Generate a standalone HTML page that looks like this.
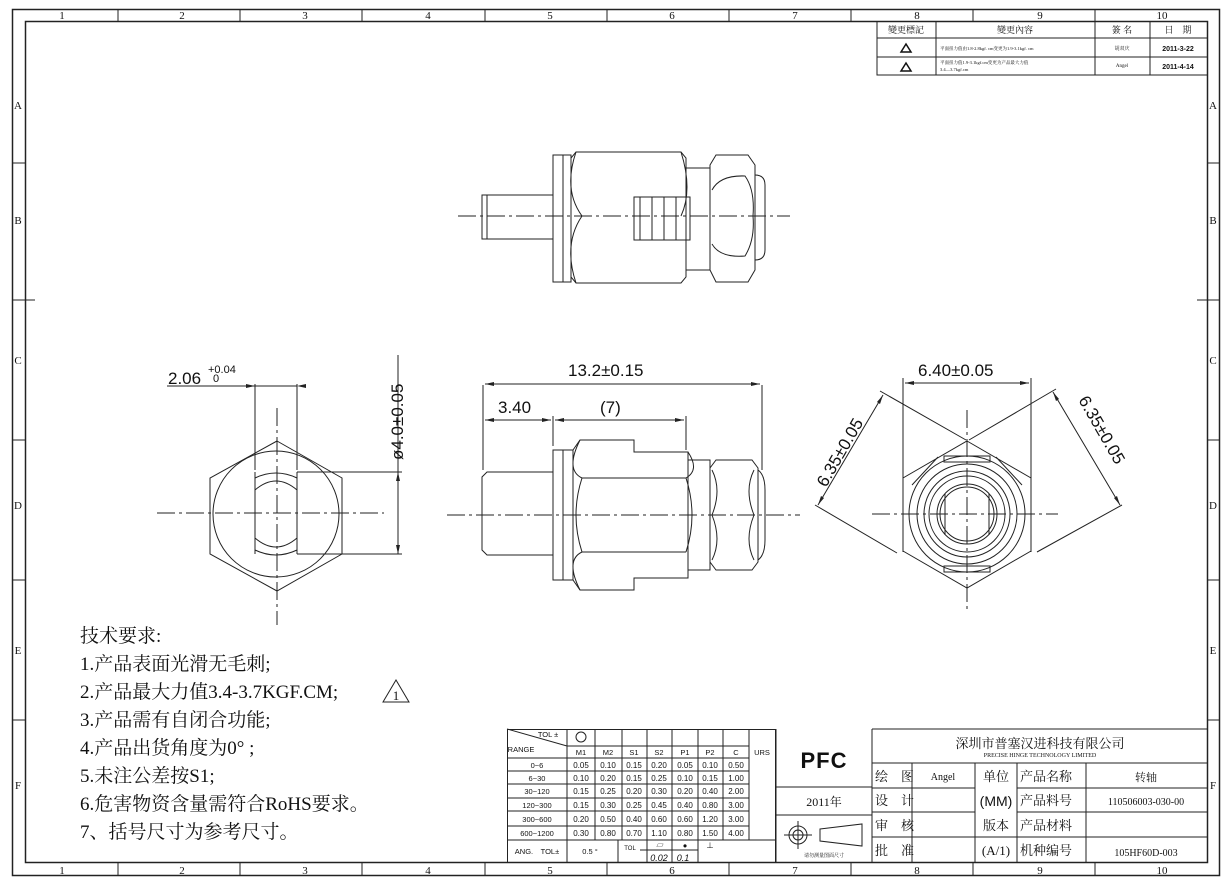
<!DOCTYPE html>
<html><head><meta charset="utf-8"><style>
html,body{margin:0;padding:0;background:#fff;}
svg{display:block;}
text{font-family:"Liberation Serif","Noto Serif CJK SC",serif;fill:#111;}
.s,.s text{font-family:"Liberation Sans","Noto Sans CJK SC",sans-serif;}
</style></head><body>
<svg width="1232" height="881" viewBox="0 0 1232 881" xmlns="http://www.w3.org/2000/svg">
<g fill="none" stroke="#222" stroke-width="1">
<rect x="12.5" y="9.5" width="1207" height="866" stroke-width="1.5"/>
<rect x="25.5" y="21.5" width="1182" height="841" stroke-width="1.5"/>
<path d="M118 9V21M240 9V21M362 9V21M485 9V21M607 9V21M729 9V21M851 9V21M973 9V21M1095 9V21 M118 862V876M240 862V876M362 862V876M485 862V876M607 862V876M729 862V876M851 862V876M973 862V876M1095 862V876"/>
<path d="M12 163H25M12 300H35M12 440H25M12 580H25M12 720H25M1207 163H1219M1197 300H1219M1207 440H1219M1207 580H1219M1207 720H1219"/>
<path d="M877 21V75H1207M877 38H1207M877 57H1207M936 21V75M1095 21V75M1150 21V75"/>
<!-- tolerance table -->
<rect x="507.5" y="729.5" width="268" height="133"/>
<path d="M567 746H749M507 758H749M507 771H749M507 784H749M507 798H749M507 811H749M507 826H749M507 840H776M567 729V862M595 729V840M622 729V840M647 729V840M672 729V840M698 729V840M723 729V840M749 729V840M507 729L567 746M618 840V862M640 850H698M647 840V862M672 840V862M698 840V862"/>
<path d="M776 729V862M776 787H872M776 815H872M872 729V862"/>
<path d="M872 729H1207M872 763H1207M872 788H975M1017 788H1207M872 812H975M1017 812H1207M872 837H1207M912 763V862M975 763V862M1017 763V862M1086 763V862"/>
</g>
<g font-size="11" text-anchor="middle">
<text x="62" y="19">1</text><text x="182" y="19">2</text><text x="305" y="19">3</text><text x="428" y="19">4</text><text x="550" y="19">5</text><text x="672" y="19">6</text><text x="795" y="19">7</text><text x="917" y="19">8</text><text x="1040" y="19">9</text><text x="1162" y="19">10</text>
<text x="62" y="874">1</text><text x="182" y="874">2</text><text x="305" y="874">3</text><text x="428" y="874">4</text><text x="550" y="874">5</text><text x="672" y="874">6</text><text x="795" y="874">7</text><text x="917" y="874">8</text><text x="1040" y="874">9</text><text x="1162" y="874">10</text>
<text x="18" y="109">A</text><text x="18" y="224">B</text><text x="18" y="364">C</text><text x="18" y="509">D</text><text x="18" y="654">E</text><text x="18" y="789">F</text>
<text x="1213" y="109">A</text><text x="1213" y="224">B</text><text x="1213" y="364">C</text><text x="1213" y="509">D</text><text x="1213" y="654">E</text><text x="1213" y="789">F</text>
</g>
<g font-size="9">
<text x="906" y="33" text-anchor="middle">變更標記</text>
<text x="1015" y="33" text-anchor="middle">變更內容</text>
<text x="1122" y="33" text-anchor="middle">簽 名</text>
<text x="1178" y="33" text-anchor="middle">日　期</text>
<g fill="none" stroke="#111" stroke-width="1.5"><path d="M901 52L906 44L911 52ZM901 71L906 63L911 71Z"/></g>
<text x="940" y="50" font-size="4.5">平面扭力值由1.8-2.8kgf. cm变更为1.9-3.1kgf. cm</text>
<text x="940" y="64" font-size="4.5">平面扭力值1.9-3.1kgf.cm变更为产品最大力值</text>
<text x="940" y="71" font-size="4.5">3.4—3.7kgf.cm</text>
<text x="1122" y="50" font-size="5" text-anchor="middle">胡双庆</text>
<text x="1122" y="67" font-size="5" text-anchor="middle">Angel</text>
<g class="s"><text x="1178" y="51" font-size="7" font-weight="bold" text-anchor="middle">2011-3-22</text>
<text x="1178" y="69" font-size="7" font-weight="bold" text-anchor="middle">2011-4-14</text></g>
</g>
<g class="s" font-size="7.5" text-anchor="middle">
<circle cx="581" cy="737" r="5" fill="none" stroke="#222"/>
<text x="548" y="737">TOL ±</text>
<text x="521" y="752">RANGE</text>
<text x="581" y="755">M1</text><text x="608" y="755">M2</text><text x="634" y="755">S1</text><text x="659" y="755">S2</text><text x="685" y="755">P1</text><text x="710" y="755">P2</text><text x="736" y="755">C</text><text x="762" y="755">URS</text>
<text x="537" y="768">0~6</text><text x="537" y="781">6~30</text><text x="537" y="794">30~120</text><text x="537" y="808">120~300</text><text x="537" y="822">300~600</text><text x="537" y="836">600~1200</text>
<g font-size="8">
<text x="581" y="768">0.05</text><text x="608" y="768">0.10</text><text x="634" y="768">0.15</text><text x="659" y="768">0.20</text><text x="685" y="768">0.05</text><text x="710" y="768">0.10</text><text x="736" y="768">0.50</text>
<text x="581" y="781">0.10</text><text x="608" y="781">0.20</text><text x="634" y="781">0.15</text><text x="659" y="781">0.25</text><text x="685" y="781">0.10</text><text x="710" y="781">0.15</text><text x="736" y="781">1.00</text>
<text x="581" y="794">0.15</text><text x="608" y="794">0.25</text><text x="634" y="794">0.20</text><text x="659" y="794">0.30</text><text x="685" y="794">0.20</text><text x="710" y="794">0.40</text><text x="736" y="794">2.00</text>
<text x="581" y="808">0.15</text><text x="608" y="808">0.30</text><text x="634" y="808">0.25</text><text x="659" y="808">0.45</text><text x="685" y="808">0.40</text><text x="710" y="808">0.80</text><text x="736" y="808">3.00</text>
<text x="581" y="822">0.20</text><text x="608" y="822">0.50</text><text x="634" y="822">0.40</text><text x="659" y="822">0.60</text><text x="685" y="822">0.60</text><text x="710" y="822">1.20</text><text x="736" y="822">3.00</text>
<text x="581" y="836">0.30</text><text x="608" y="836">0.80</text><text x="634" y="836">0.70</text><text x="659" y="836">1.10</text><text x="685" y="836">0.80</text><text x="710" y="836">1.50</text><text x="736" y="836">4.00</text>
</g>
<text x="537" y="854">ANG.　TOL±</text>
<text x="590" y="854">0.5 °</text>
<text x="630" y="850" font-size="6">TOL</text>
<text x="660" y="848">▱</text><text x="685" y="848">●</text><text x="710" y="848">⊥</text>
<text x="659" y="861" font-style="italic" font-size="9">0.02</text><text x="683" y="861" font-style="italic" font-size="9">0.1</text>
</g>
<text x="824" y="768" class="s" font-size="22" font-weight="900" text-anchor="middle" letter-spacing="1">PFC</text>
<text x="824" y="806" font-size="12" text-anchor="middle">2011年</text>
<g fill="none" stroke="#222">
<circle cx="798" cy="835" r="9"/><circle cx="798" cy="835" r="5"/><path d="M784 835H812M798 821V849"/>
<path d="M820 829L862 824V846L820 841Z"/>
</g>
<text x="824" y="857" font-size="5" text-anchor="middle">请勿测量图面尺寸</text>
<text x="1040" y="748" font-size="13" text-anchor="middle">深圳市普塞汉进科技有限公司</text>
<text x="1040" y="757" font-size="6" text-anchor="middle">PRECISE HINGE TECHNOLOGY LIMITED</text>
<g font-size="13">
<text x="875" y="781">绘　图</text><text x="875" y="805">设　计</text><text x="875" y="830">审　核</text><text x="875" y="855">批　准</text>
<text x="943" y="780" font-size="10" text-anchor="middle">Angel</text>
<text x="996" y="781" text-anchor="middle">单位</text>
<text x="996" y="806" text-anchor="middle" class="s" font-size="14">(MM)</text>
<text x="996" y="830" text-anchor="middle">版本</text>
<text x="996" y="855" text-anchor="middle">(A/1)</text>
<text x="1020" y="781">产品名称</text><text x="1020" y="805">产品料号</text><text x="1020" y="830">产品材料</text><text x="1020" y="855">机种编号</text>
<text x="1146" y="781" font-size="11" text-anchor="middle">转轴</text>
<text x="1146" y="805" font-size="10" text-anchor="middle">110506003-030-00</text>
<text x="1146" y="856" font-size="10" text-anchor="middle">105HF60D-003</text>
</g>
<g font-size="19">
<text x="80" y="642">技术要求:</text>
<text x="80" y="670">1.产品表面光滑无毛刺;</text>
<text x="80" y="698">2.产品最大力值3.4-3.7KGF.CM;</text>
<text x="80" y="726">3.产品需有自闭合功能;</text>
<text x="80" y="754">4.产品出货角度为0° ;</text>
<text x="80" y="782">5.未注公差按S1;</text>
<text x="80" y="810">6.危害物资含量需符合RoHS要求。</text>
<text x="80" y="838">7、括号尺寸为参考尺寸。</text>
</g>
<g fill="none" stroke="#222"><path d="M383 702L396 680L409 702Z"/></g>
<text x="396" y="700" font-size="13" text-anchor="middle">1</text>

<g fill="none" stroke="#222" stroke-width="1">
<g stroke-dasharray="18,4,3,4">
<path d="M458 216H790"/>
<path d="M447 515H800"/>
<path d="M157 513H384M277 408V625"/>
<path d="M872 514H1058M967 410V612"/>
</g>
<path d="M482 195H553V239H482ZM487 195V239"/>
<path d="M553 155H571V282H553ZM563 155V282"/>
<path d="M576 152H681L686 158V277L681 283H576L571 277V158Z"/>
<path d="M576 152Q563 190 582 216Q563 244 576 283M681 152Q693 190 681 216"/>
<path d="M686 168H710V270H686Z"/>
<path d="M716 155H748L755 165V270L748 282H716L710 270V165Z"/>
<path d="M712 190Q720 175 745 176Q755 190 753 216Q755 240 745 256Q720 258 712 244"/>
<path d="M755 175Q765 175 765 185V250Q765 260 755 260"/>
<path d="M634 197H690V240H634ZM640 197V240M652 197V240M664 197V240M676 197V240"/>
<path d="M487 472H553V555H487L482 550V477Z"/>
<path d="M553 450H573V580H553ZM563 450V580"/>
<path d="M580 440H634V452H688V578H634V590H580L573 580V450Z"/>
<path d="M580 440Q565 470 582 478Q570 515 582 552Q565 560 580 590M688 452Q700 470 686 478H582M686 552H582M686 478Q698 515 686 552"/>
<path d="M688 460H710V570H688Z"/>
<path d="M716 460H752L758 468V562L752 570H716L710 562V468Z"/>
<path d="M712 470Q722 490 712 515Q722 540 712 560M754 470Q744 490 754 515Q744 540 754 560"/>
<path d="M758 470Q765 475 765 490V540Q765 555 758 560"/>
<path d="M483 385V470M762 385V470M553 416V446M686 416V450"/>
<path d="M485 384H760M485 420H551M555 420H684"/>
<path d="M277 441L342 478V554L277 591L210 554V478Z"/>
<circle cx="276" cy="514" r="63"/>
<path d="M255 472V554M297 472V554M255 478Q276 468 297 478M255 490Q276 472 297 490M255 550Q276 560 297 550M255 538Q276 556 297 538"/>
<path d="M167 386H297M255 384V470M297 384V470"/>
<path d="M297 472H402M297 554H402M398 355V554"/>
<path d="M967 441L1031 478V551L967 588L903 551V478Z"/>
<circle cx="967" cy="514" r="58"/><circle cx="967" cy="514" r="50"/><circle cx="967" cy="514" r="43"/><circle cx="967" cy="514" r="38"/><circle cx="967" cy="514" r="30"/><circle cx="967" cy="514" r="27"/>
<path d="M944 456H990V462H944ZM944 566H990V572H944ZM945 494V535M989 494V535"/>
<path d="M938 457L912 485M996 457L1022 485"/>
<path d="M903 378V552M1031 378V552M905 383H1029"/>
<path d="M880 391L966 440M1056 389L969 440M815 505L897 553M1122 505L1037 552"/>
<path d="M883 395L818 505M1053 392L1120 505"/>
</g>
<g fill="#222">
<path d="M485 384l9-2v4zM760 384l-9-2v4zM485 420l9-2v4zM551 420l-9-2v4zM555 420l9-2v4zM684 420l-9-2v4z"/>
<path d="M255 386l-9-2v4zM297 386l9-2v4z"/>
<path d="M398 472l-2 9h4zM398 554l-2-9h4z"/>
<path d="M905 383l9-2v4zM1029 383l-9-2v4z"/>
<path d="M883 395l-6 7 3 2zM818 505l6-7-3-2zM1053 392l6 7-3 2zM1120 505l-6-7 3-2z"/>
</g>
<g class="s" font-size="17">
<text x="568" y="376">13.2±0.15</text>
<text x="498" y="413">3.40</text>
<text x="600" y="413">(7)</text>
<text x="168" y="384">2.06</text>
<text x="208" y="373" font-size="11">+0.04</text><text x="213" y="382" font-size="11">0</text>
<text transform="translate(403,460) rotate(-90)">ø4.0±0.05</text>
<text x="918" y="376">6.40±0.05</text>
<text transform="translate(826,488) rotate(-60)">6.35±0.05</text>
<text transform="translate(1078,400) rotate(60)">6.35±0.05</text>
</g>
</svg>
</body></html>
